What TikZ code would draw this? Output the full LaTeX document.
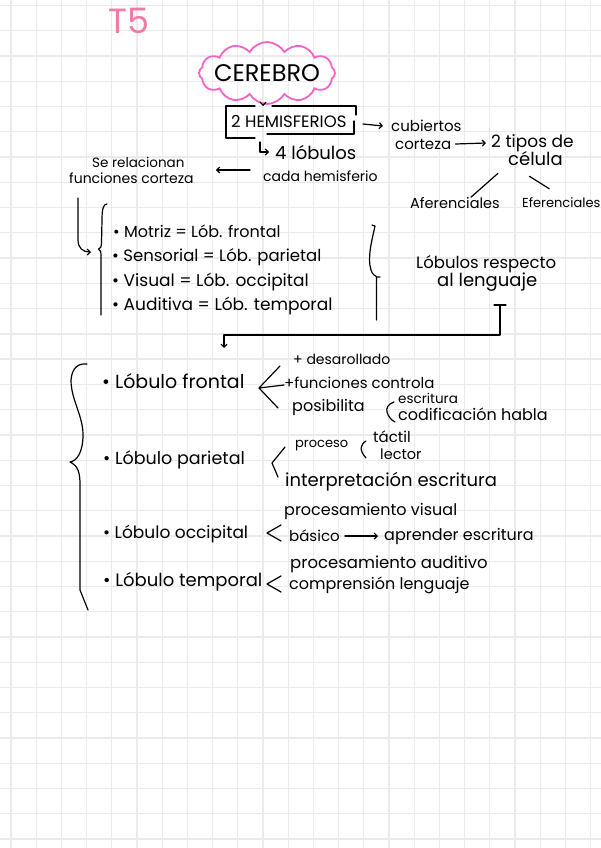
\documentclass[tikz,border=0pt]{standalone}
\usepackage{fontspec}
\setmainfont{Poppins}
\usetikzlibrary{positioning,arrows.meta,shapes.symbols}
\definecolor{cuadro}{HTML}{EBEBEB}
\definecolor{rosat}{HTML}{F27AA6}
\definecolor{rosanube}{HTML}{F562C8}
\newcommand{\fs}[1]{\fontsize{#1}{#1}\selectfont}
\tikzset{
  nota/.style={anchor=west,inner sep=0pt,font=\fs{15}},
  chica/.style={nota,font=\fs{13}},
  linea/.style={line width=1.2pt,line cap=round,line join=round},
  flecha/.style={linea,-{Straight Barb[length=3pt,width=6pt]}},
}

\begin{document}
\begin{tikzpicture}[x=1pt,y=-1pt]
\useasboundingbox (0,0) rectangle (601,848);
\fill[white] (0,0) rectangle (601,848);
\foreach \i in {0,...,23} \draw[cuadro,line width=1.3pt] (11+25.2*\i,0) -- (11+25.2*\i,848);
\foreach \j in {0,...,33} \draw[cuadro,line width=1.3pt] (0,5.5+25.26*\j) -- (601,5.5+25.26*\j);

% cabecera
\node[anchor=west,inner sep=0pt,text=rosat,font=\fs{35}] (tema) at (108,21) {T5};
\node[cloud,cloud puffs=12,cloud puff arc=120,cloud ignores aspect,draw=rosanube,line width=1.8pt,minimum width=136pt,minimum height=62pt,inner sep=0pt] (nube) at (267,73) {};
\node[inner sep=0pt,font=\fs{24}] (cerebro) at (nube) {CEREBRO};

\node[nota,font=\fs{16.5}] (hemis) at (231,121) {2 HEMISFERIOS};
\coordinate (boxtop) at (263,106);
\coordinate (caja) at (356,124);
\draw[flecha] (nube.south -| boxtop) -- (boxtop);
\draw[linea] (255,106) -- (226,106) -- (226,138) -- (255,138)
  (272,106) -- (356,106) -- (356,115)
  (354,121) -- (354,134) -- (267,134);

\node[nota] (cubiertos) at (391,126) {cubiertos};
\node[nota] (corteza) at (395,144) {corteza};
\draw[flecha] ([xshift=7pt]caja) -- ([xshift=-8pt]cubiertos.west);
\node[nota,font=\fs{17}] (tipos) at (491,143) {2 tipos de};
\node[nota,font=\fs{18}] (celula) at (508,159) {célula};
\draw[flecha] ([xshift=4pt]corteza.east) -- ([xshift=-5pt]tipos.west);
\node[nota,font=\fs{14.5}] (afer) at (410,203) {Aferenciales};
\node[chica] (efer) at (522,203) {Eferenciales};
\draw[linea] ([xshift=-10pt,yshift=-7pt]celula.south west) -- ([xshift=16pt]afer.north);
\draw[linea] ([xshift=-6pt,yshift=-10pt]celula.south) -- ([xshift=-12pt,yshift=9pt]efer.north);

\node[nota,font=\fs{18}] (cuatro) at (275,152) {4 lóbulos};
\draw[flecha] ([xshift=-15pt,yshift=10pt]cuatro.west) |- ([xshift=-6pt]cuatro.west);
\node[nota,font=\fs{14}] (cada) at (263,176) {cada hemisferio};
\node[nota,font=\fs{13.5}] (serel) at (92,162) {Se relacionan};
\node[nota,font=\fs{14}] (funciones) at (69,178) {funciones corteza};
\draw[flecha] ([xshift=-13pt,yshift=6pt]cada.west) -- ([xshift=22pt,yshift=8pt]funciones.east);

% funciones de la corteza
\node[nota,font=\fs{16}] (motriz) at (113,231) {\textbullet\ Motriz = Lób. frontal};
\node[nota,font=\fs{16.5}] (sensorial) at (112,257) {\textbullet\ Sensorial = Lób. parietal};
\node[nota,font=\fs{17}] (visual) at (112,282) {\textbullet\ Visual = Lób. occipital};
\node[nota,font=\fs{17}] (auditiva) at (112,306) {\textbullet\ Auditiva = Lób. temporal};
\draw[flecha] ([xshift=9pt,yshift=-20pt]funciones.west) -- (78,240) .. controls (78,248) and (83,252) .. (91,252);
\draw[linea] (107,204) .. controls (103,204) and (102,210) .. (102,220) -- (101.5,243)
  .. controls (101.5,247) and (100,249) .. (98.5,249)
  .. controls (100.5,250) and (101,252) .. (101,256) -- (101,315);
\draw[linea] (372,225) -- (375,226) .. controls (372,240) and (367,258) .. (371,270)
  .. controls (372,274) and (375,276) .. (377,277) -- (380,277)
  (376.5,277) -- (376.5,320);

\node[nota,font=\fs{16.5}] (respecto) at (416,264) {Lóbulos respecto};
\node[nota,font=\fs{18}] (lenguaje) at (437,282) {al lenguaje};
\coordinate (te) at (500,305);
\coordinate (codo) at (224,335);
\coordinate (lista) at (224,348);
\draw[linea] ([xshift=-6pt]te) -- ([xshift=6pt]te);
\draw[flecha] (te) |- (codo) -- (lista);

% lobulos y lenguaje
\draw[linea] (87,364) .. controls (78,363) and (72,368) .. (71,380)
  .. controls (71,400) and (83,415) .. (83,435)
  .. controls (83,452) and (77,461) .. (70,462)
  .. controls (78,466) and (80,472) .. (80,485) -- (80,590) -- (88,610);

\node[nota,font=\fs{19}] (frontal) at (102,381) {\textbullet\ Lóbulo frontal};
\coordinate (vf) at (259,388);
\draw[linea] (280,366) -- (vf) -- (284,385) (vf) -- (278,408);
\node[nota,font=\fs{14}] (desa) at (293,359) {+ desarollado};
\node[nota] (controla) at (284,383) {+funciones controla};
\node[nota,font=\fs{16}] (posibilita) at (292,407) {posibilita};
\draw[linea] (394,402) .. controls (388,404) and (386,408) .. (387,412)
  .. controls (388,416) and (391,420) .. (395,422);
\node[nota,font=\fs{13.5}] (escritura) at (398,398) {escritura};
\node[nota,font=\fs{16}] (codif) at (398,414) {codificación habla};

\node[nota,font=\fs{17.5}] (parietal) at (103,460) {\textbullet\ Lóbulo parietal};
\draw[linea] (285,447) -- (272,463) -- (278,477);
\node[chica] (proceso) at (295,446) {proceso};
\draw[linea] (366,441) .. controls (360,445) and (359,450) .. (366,458);
\node[nota] (tactil) at (373,437) {táctil};
\node[nota,font=\fs{14.5}] (lector) at (380,454) {lector};
\node[nota,font=\fs{18}] (interp) at (285,482) {interpretación escritura};

\node[nota,font=\fs{17}] (occipital) at (103,534) {\textbullet\ Lóbulo occipital};
\draw[linea] (281,525) -- (267,533) -- (281,541);
\node[nota,font=\fs{16}] (procvis) at (284,511) {procesamiento visual};
\node[nota] (basico) at (289,536) {básico};
\node[nota,font=\fs{16}] (aprender) at (384,536) {aprender escritura};
\draw[flecha] ([xshift=5pt]basico.east) -- ([xshift=-6pt]aprender.west);

\node[nota,font=\fs{18}] (temporal) at (103,582) {\textbullet\ Lóbulo temporal};
\draw[linea] (281,576) -- (267,584) -- (281,592);
\node[nota,font=\fs{16.5}] (procaud) at (290,564) {procesamiento auditivo};
\node[nota,font=\fs{16}] (comprension) at (289,585) {comprensión lenguaje};
\end{tikzpicture}
\end{document}
